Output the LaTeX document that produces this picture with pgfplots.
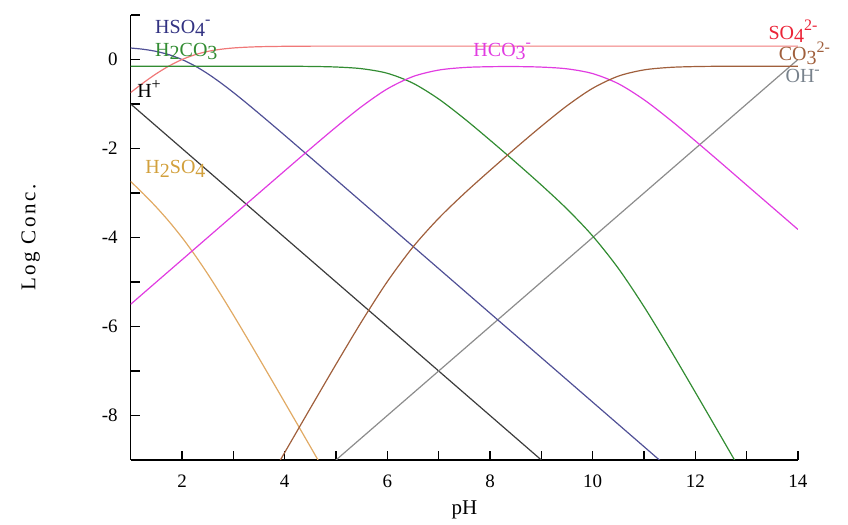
\documentclass[border=0pt]{standalone}
\usepackage{fontspec}
\setmainfont{Liberation Serif}
\newfontfamily\spaced[LetterSpace=12]{Liberation Serif}
\usepackage{pgfplots}
\pgfplotsset{compat=1.18}

\definecolor{chso4}{RGB}{50,50,130}
\definecolor{chso4line}{RGB}{80,80,150}
\definecolor{ch2co3}{RGB}{50,140,50}
\definecolor{cso4}{RGB}{235,35,55}
\definecolor{cso4line}{RGB}{240,120,120}
\definecolor{chplus}{RGB}{60,60,60}
\definecolor{ch2so4}{RGB}{210,160,60}
\definecolor{ch2so4line}{RGB}{225,170,100}
\definecolor{chco3}{RGB}{225,60,225}
\definecolor{cco3}{RGB}{160,95,60}
\definecolor{coh}{RGB}{140,140,140}
\definecolor{cohlab}{RGB}{120,130,140}

% full-size lowered subscripts and small raised charges, as in the chart
\newcommand{\sbs}[1]{\raisebox{-0.4ex}{#1}}
\newcommand{\sps}[1]{\raisebox{0.9ex}{\footnotesize #1}}

\begin{document}
\begin{tikzpicture}
% keep the page the same proportions as the reference (848x525)
\useasboundingbox (-65.35pt,-32.5pt) rectangle (358.65pt,230pt);
\begin{axis}[
    scale only axis,
    width=333.65pt, height=222.5pt,
    xmin=1, xmax=14, ymin=-9, ymax=1,
    axis x line*=bottom, axis y line*=left,
    axis line style={line width=0.6pt},
    xtick={2,4,...,14}, minor xtick={3,5,...,13},
    ytick={-8,-6,...,0}, minor ytick={-9,-7,...,1},
    tick align=inside,
    major tick length=4.5pt, minor tick length=4.5pt,
    tick style={black, line width=0.6pt},
    /pgf/number format/assume math mode=true,
    ticklabel style={font=\fontsize{9.5}{11}\selectfont},
    xticklabel style={yshift=-4pt},
    yticklabel style={xshift=-3pt},
    xlabel={pH}, ylabel={\spaced\fontsize{10.5}{12}\selectfont Log Conc.},
    xlabel style={font=\fontsize{10.5}{12}\selectfont, at={(axis description cs:0.5,0)}, anchor=center, yshift=-25pt},
    ylabel style={at={(axis description cs:0,0.5)}, anchor=center, yshift=50pt},
    clip mode=individual,
    every axis plot/.append style={line width=0.6pt},
]
% H+
\addplot[chplus] coordinates {(1,-1) (9,-9)};
% OH-
\addplot[coh] coordinates {(5,-9) (14,0)};
% H2SO4
\addplot[ch2so4line, smooth] coordinates {
 (1,-2.742) (1.25,-3.021) (1.5,-3.319) (1.75,-3.644) (2,-4.001) (2.25,-4.394)
 (2.5,-4.819) (2.75,-5.271) (3,-5.741) (3.25,-6.224) (3.5,-6.714) (3.75,-7.208)
 (4,-7.704) (4.25,-8.202) (4.5,-8.701) (4.7,-9.101)};
% HSO4-
\addplot[chso4line, smooth] coordinates {
 (1,0.258) (1.25,0.229) (1.5,0.181) (1.75,0.106) (2,-0.001) (2.25,-0.144)
 (2.5,-0.319) (2.75,-0.521) (3,-0.741) (3.25,-0.974) (3.5,-1.214) (3.75,-1.458)
 (4,-1.704) (4.5,-2.201) (5,-2.700) (11.4,-9.100)};
% SO4 2-
\addplot[cso4line, smooth] coordinates {
 (1,-0.742) (1.25,-0.521) (1.5,-0.319) (1.75,-0.144) (2,-0.001) (2.25,0.106)
 (2.5,0.181) (2.75,0.229) (3,0.259) (3.25,0.276) (3.5,0.287) (3.75,0.292)
 (4,0.296) (4.5,0.299) (5,0.300) (14,0.300)};
% H2CO3
\addplot[ch2co3, smooth] coordinates {
 (1,-0.150) (3,-0.150) (4,-0.152) (4.5,-0.156) (5,-0.169) (5.5,-0.207)
 (6,-0.310) (6.5,-0.533) (7,-0.888) (7.5,-1.330) (8,-1.812) (8.5,-2.309)
 (9,-2.821) (9.5,-3.360) (10,-3.967) (10.5,-4.694) (11,-5.554) (11.5,-6.498)
 (12,-7.479) (12.5,-8.473) (13,-9.473)};
% HCO3-
\addplot[chco3, smooth] coordinates {
 (1,-5.500) (3,-3.500) (4,-2.502) (4.5,-2.006) (5,-1.519) (5.5,-1.057)
 (6,-0.660) (6.5,-0.383) (7,-0.238) (7.5,-0.180) (8,-0.162) (8.5,-0.159)
 (9,-0.171) (9.5,-0.210) (10,-0.317) (10.5,-0.544) (11,-0.904) (11.5,-1.348)
 (12,-1.829) (12.5,-2.323) (13,-2.823) (14,-3.820)};
% CO3 2-
\addplot[cco3, smooth] coordinates {
 (3.9,-9.032) (4,-8.832) (4.5,-7.836) (5,-6.849) (5.5,-5.887) (6,-4.990)
 (6.5,-4.213) (7,-3.568) (7.5,-3.010) (8,-2.492) (8.5,-1.989) (9,-1.501)
 (9.5,-1.040) (10,-0.647) (10.5,-0.374) (11,-0.234) (11.5,-0.178)
 (12,-0.159) (12.5,-0.153) (14,-0.150)};

% species labels
\node[anchor=west, text=chso4, inner sep=0pt] at (axis cs:1.47,0.70) {HSO\sbs{4}\sps{-}};
\node[anchor=west, text=ch2co3, inner sep=0pt] at (axis cs:1.47,0.18) {H\sbs{2}CO\sbs{3}};
\node[anchor=west, text=black, inner sep=0pt] at (axis cs:1.12,-0.66) {H\sps{+}};
\node[anchor=west, text=ch2so4, inner sep=0pt] at (axis cs:1.28,-2.46) {H\sbs{2}SO\sbs{4}};
\node[anchor=west, text=chco3, inner sep=0pt] at (axis cs:7.67,0.18) {HCO\sbs{3}\sps{-}};
\node[anchor=west, text=cso4, inner sep=0pt] at (axis cs:13.42,0.63) {SO\sbs{4}\sps{2-}};
\node[anchor=west, text=cco3, inner sep=0pt] at (axis cs:13.62,0.14) {CO\sbs{3}\sps{2-}};
\node[anchor=west, text=cohlab, inner sep=0pt] at (axis cs:13.75,-0.38) {OH\sps{-}};
\end{axis}
\end{tikzpicture}
\end{document}
